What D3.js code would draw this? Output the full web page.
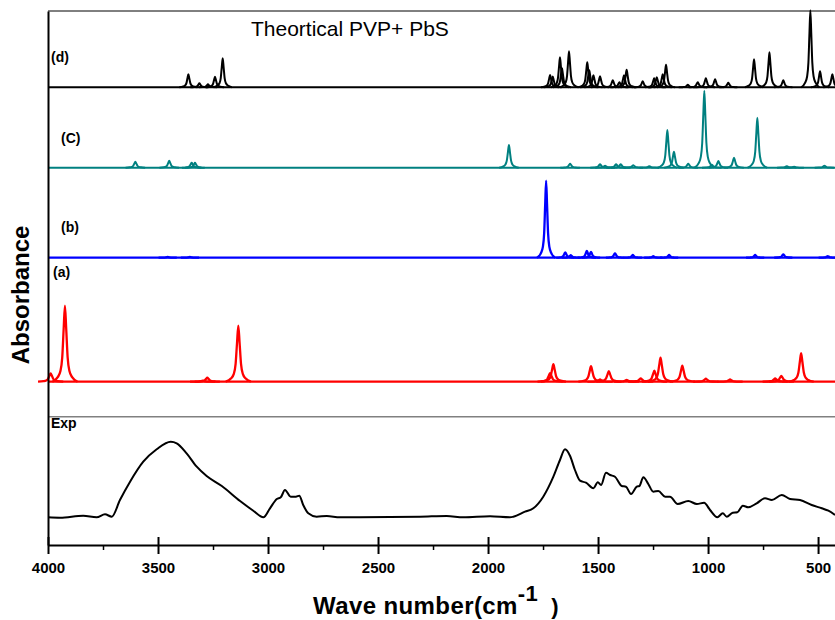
<!DOCTYPE html>
<html>
<head>
<meta charset="utf-8">
<script src="https://cdn.jsdelivr.net/npm/d3@7"></script>
<style>
  body { margin: 0; background: #fff; }
  svg { display: block; }
</style>
</head>
<body>
<div id="chart"></div>
<script>
// peak lists: [wave number, height above the trace baseline]
const peaksD = [
  [3362, 1.3], [3312, 0.4], [3273, 0.3], [3241, 1.06], [3206, 2.9],
  [1718, 1.24], [1706, 1.07], [1673, 3.0], [1664, 1.9], [1632, 3.6],
  [1549, 2.5], [1540, 1.7], [1521, 1.2], [1491, 1.1], [1433, 0.7],
  [1403, 0.5], [1382, 1.2], [1370, 1.75], [1297, 0.6], [1245, 0.9],
  [1233, 1.0], [1206, 1.3], [1191, 2.25], [1092, 0.25], [1047, 0.5],
  [1010, 0.9], [968, 0.8], [908, 0.45], [791, 2.8], [721, 3.5],
  [658, 0.7], [535, 7.7], [491, 1.6], [435, 1.3]
];
const peaksC = [
  [3603, 0.6], [3449, 0.7], [3347, 0.5], [3332, 0.5], [1905, 2.27],
  [1627, 0.4], [1491, 0.35], [1468, 0.2], [1418, 0.35], [1397, 0.35],
  [1340, 0.25], [1267, 0.15], [1185, 3.77], [1155, 1.6], [1090, 0.4],
  [1017, 7.7], [983, 0.3], [953, 0.67], [882, 1.0], [776, 5.0],
  [642, 0.15], [609, 0.1], [471, 0.2]
];
const peaksB = [
  [3456, 0.07], [3355, 0.07], [1736, 7.7], [1649, 0.54], [1624, 0.25],
  [1551, 0.67], [1532, 0.57], [1423, 0.44], [1342, 0.27], [1249, 0.15],
  [1177, 0.27], [786, 0.27], [658, 0.34], [456, 0.16]
];
const peaksA = [
  [3988, 0.84], [3923, 7.6], [3297, 0.1], [3276, 0.4], [3135, 5.6],
  [1718, 0.85], [1703, 1.75], [1532, 1.55], [1491, 0.22], [1451, 1.05],
  [1370, 0.17], [1306, 0.34], [1244, 1.1], [1216, 2.4], [1117, 1.6],
  [1010, 0.3], [900, 0.22], [695, 0.32], [667, 0.57], [577, 2.85]
];

// experimental spectrum: wave numbers and absorbance above its baseline
const expWave = [
  4000, 3945, 3840, 3779, 3741, 3710, 3673, 3627, 3567, 3506, 3442, 3415,
  3370, 3324, 3279, 3210, 3127, 3067, 3021, 2991, 2960, 2942, 2923, 2897,
  2873, 2858, 2840, 2817, 2779, 2733, 2673, 2309, 2188, 2112, 1991, 1900,
  1885, 1832, 1794, 1749, 1703, 1673, 1650, 1627, 1605, 1582, 1555, 1521,
  1501, 1486, 1464, 1445, 1423, 1392, 1373, 1350, 1324, 1312, 1294, 1271,
  1249, 1226, 1195, 1173, 1138, 1090, 1051, 1018, 991, 958, 933, 915,
  888, 867, 842, 817, 779, 741, 710, 665, 627, 582, 529, 483, 453, 423
];
const expAbs = [
  -0.06, -0.1, 0.1, -0.06, 0.24, 0, 1.67, 3.5, 5.5, 6.74, 7.5, 7.34,
  6.34, 5.0, 4.07, 3.07, 1.57, 0.6, -0.06, 0.84, 1.77, 1.94, 2.67, 2.0,
  2.0, 2.1, 1.17, 0.34, 0, 0.07, -0.06, 0, 0.07, -0.06, 0.04, -0.06,
  0, 0.5, 0.84, 2.0, 4.0, 5.67, 6.74, 6.07, 4.67, 3.6, 3.4, 2.84,
  3.44, 3.17, 4.4, 4.17, 4.0, 3.07, 3.0, 2.27, 3.0, 3.07, 3.94, 3.24,
  2.5, 2.57, 2.0, 2.0, 1.27, 1.57, 1.27, 1.4, 0.67, -0.06, 0.34, 0,
  0.4, 0.44, 1.1, 0.94, 1.34, 1.84, 1.67, 2.17, 1.77, 1.67, 1.17, 0.84, 0.6, 0.17
];

const xTicks = [4000, 3500, 3000, 2500, 2000, 1500, 1000, 500];
const xMinorTicks = [3750, 3250, 2750, 2250, 1750, 1250, 750];
const waveRange = [4000, 423];

// vertical offsets of each trace (stacked plot)
const traces = [
  { name: "(d)", peaks: peaksD, offset: 45.77, color: "#000000", hw: 1.3, lw: 2,   lx: 51, ly: 61.7 },
  { name: "(C)", peaks: peaksC, offset: 37.73, color: "#008080", hw: 1.4, lw: 2,   lx: 61, ly: 142.7 },
  { name: "(b)", peaks: peaksB, offset: 28.73, color: "#0000ff", hw: 1.3, lw: 2.3, lx: 61, ly: 231.7 },
  { name: "(a)", peaks: peaksA, offset: 16.33, color: "#ff0000", hw: 1.8, lw: 2.3, lx: 53, ly: 276.7 }
];
const expOffset = 2.83;
const sepLevel = 12.83;

const width = 835;
const height = 620;
const margins = { top: 11, right: 0, bottom: 75, left: 48 };

const x = d3.scaleLinear()
    .domain(waveRange)
    .range([margins.left, width - margins.right]);
const y = d3.scaleLinear()
    .domain([0, 53.4])
    .range([height - margins.bottom, margins.top]);

const svg = d3.select("#chart")
  .append("svg")
    .attr("width", width)
    .attr("height", height)
    .attr("viewBox", [0, 0, width, height])
    .style("font-family", "Arial, 'Liberation Sans', sans-serif");

// top frame line
svg.append("line")
    .attr("x1", x(waveRange[0])).attr("x2", x(waveRange[1]))
    .attr("y1", y(53.4)).attr("y2", y(53.4))
    .attr("stroke", "#000").attr("stroke-width", 1);

// separator between theory and experiment
svg.append("line")
    .attr("x1", x(waveRange[0])).attr("x2", x(waveRange[1]))
    .attr("y1", y(sepLevel)).attr("y2", y(sepLevel))
    .attr("stroke", "#808080").attr("stroke-width", 1.5);

// peak profile (in half-widths, fraction of peak height)
const peakShape = [[-7, 0], [-4, 0.06], [-2.5, 0.14], [-1.5, 0.32], [-0.7, 0.7], [0, 1],
                   [0.7, 0.7], [1.5, 0.32], [2.5, 0.14], [4, 0.06], [7, 0]];

const line = d3.line().curve(d3.curveMonotoneX);

traces.forEach(t => {
  const g = svg.append("g")
      .attr("fill", "none")
      .attr("stroke", t.color)
      .attr("stroke-width", t.lw)
      .attr("stroke-linejoin", "round");

  g.append("path")
      .attr("d", line(waveRange.map(w => [x(w), y(t.offset)])));

  g.selectAll("path.peak")
    .data(t.peaks)
    .join("path")
      .attr("class", "peak")
      .attr("d", p => line(peakShape.map(([k, f]) => [x(p[0]) + k * t.hw, y(t.offset + f * p[1])])));

  svg.append("text")
      .attr("x", t.lx)
      .attr("y", t.ly)
      .attr("font-size", "14px")
      .attr("font-weight", "bold")
      .text(t.name);
});

// experimental curve
const expData = expWave.map((w, i) => [w, expAbs[i]]);
svg.append("path")
    .datum(expData)
    .attr("fill", "none")
    .attr("stroke", "#000")
    .attr("stroke-width", 2)
    .attr("stroke-linejoin", "round")
    .attr("d", d3.line()
        .x(d => x(d[0]))
        .y(d => y(expOffset + d[1]))
        .curve(d3.curveMonotoneX));

svg.append("text")
    .attr("x", 51)
    .attr("y", 428.3)
    .attr("font-size", "14px")
    .attr("font-weight", "bold")
    .text("Exp");

// x axis
const xaxis = svg.append("g")
    .attr("transform", `translate(0,${y(0)})`)
    .call(d3.axisBottom(x).tickValues(xTicks).tickSizeInner(9).tickSizeOuter(0).tickFormat(d3.format("d")))
    .call(g => g.select(".domain").attr("stroke-width", 2))
    .call(g => g.selectAll(".tick line").attr("y1", -8).attr("stroke-width", 2))
    .call(g => g.selectAll(".tick text")
        .attr("y", 28).attr("dy", 0)
        .attr("font-size", "15px")
        .attr("font-weight", "bold")
        .attr("font-family", "Arial, 'Liberation Sans', sans-serif")
        .attr("fill", "#000"));

svg.append("g")
    .attr("transform", `translate(0,${y(0)})`)
    .call(d3.axisBottom(x).tickValues(xMinorTicks).tickSize(5).tickFormat(""))
    .call(g => g.select(".domain").remove())
    .call(g => g.selectAll(".tick line").attr("stroke-width", 1.5));

// y axis (no ticks)
svg.append("g")
    .attr("transform", `translate(${x(waveRange[0])},0)`)
    .call(d3.axisLeft(y).tickValues([]).tickSizeOuter(0))
    .call(g => g.select(".domain").attr("stroke-width", 2));

// titles
svg.append("text")
    .attr("x", 251)
    .attr("y", 36)
    .attr("font-size", "21px")
    .text("Theortical PVP+ PbS");

const xt = svg.append("text")
    .attr("x", 313)
    .attr("y", 614)
    .attr("font-size", "24px")
    .attr("font-weight", "bold")
    .style("letter-spacing", "0.4px");
xt.append("tspan").text("Wave number(cm");
xt.append("tspan").attr("dy", -13).attr("font-size", "22px").text("-1");
xt.append("tspan").attr("dy", 13).attr("font-size", "22px").text("\u00a0\u00a0)");

svg.append("text")
    .attr("transform", "translate(29,295) rotate(-90)")
    .attr("text-anchor", "middle")
    .attr("font-size", "24px")
    .attr("font-weight", "bold")
    .text("Absorbance");
</script>
</body>
</html>
